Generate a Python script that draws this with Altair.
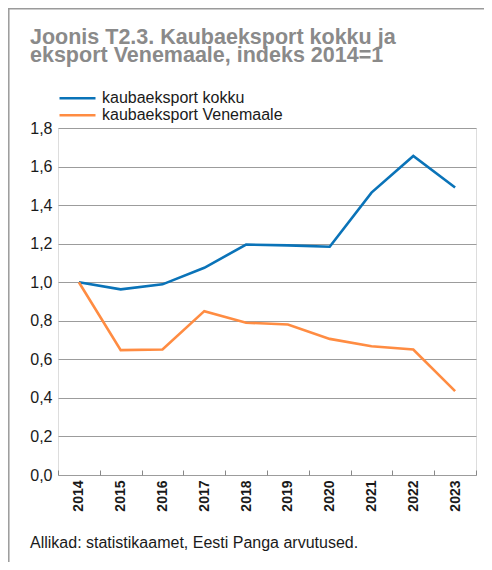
import altair as alt
import pandas as pd

years = ["2014", "2015", "2016", "2017", "2018", "2019", "2020", "2021", "2022", "2023"]
total_export = [1.00, 0.963, 0.989, 1.075, 1.195, 1.191, 1.184, 1.465, 1.655, 1.491]
russia_export = [1.00, 0.648, 0.651, 0.850, 0.790, 0.781, 0.706, 0.668, 0.651, 0.435]
series_names = ["kaubaeksport kokku", "kaubaeksport Venemaale"]
series_colors = ["#0A73B8", "#FF8C42"]
y_ticks = [0.0, 0.2, 0.4, 0.6, 0.8, 1.0, 1.2, 1.4, 1.6, 1.8]
title_lines = ["Joonis T2.3. Kaubaeksport kokku ja", "eksport Venemaale, indeks 2014=1"]
source_text = "Allikad: statistikaamet, Eesti Panga arvutused."

rows = []
for name, vals in zip(series_names, [total_export, russia_export]):
    for yr, v in zip(years, vals):
        rows.append({"aasta": yr, "väärtus": v, "seeria": name})
df = pd.DataFrame(rows)

FONT = "Liberation Sans"
W, H = 418, 347

lines = alt.Chart(df).mark_line(strokeWidth=2.6, strokeJoin="miter").encode(
    x=alt.X(
        "aasta:O",
        sort=years,
        scale=alt.Scale(type="band", paddingInner=0, paddingOuter=0),
        axis=alt.Axis(
            title=None,
            labelAngle=270,
            labelAlign="right",
            labelBaseline="middle",
            labelFont=FONT,
            labelFontSize=14,
            labelFontWeight="bold",
            labelColor="#1a1a1a",
            labelPadding=5,
            tickBand="extent",
            tickSize=5,
            tickColor="#888888",
            tickWidth=1,
            domain=False,
            offset=-5,
            grid=False,
        ),
    ),
    y=alt.Y(
        "väärtus:Q",
        scale=alt.Scale(domain=[0, 1.8], nice=False, zero=True),
        axis=alt.Axis(
            title=None,
            values=y_ticks,
            labelExpr="replace(format(datum.value, '.1f'), '.', ',')",
            labelFont=FONT,
            labelFontSize=16,
            labelColor="#1a1a1a",
            labelPadding=6,
            ticks=False,
            domain=False,
            grid=True,
            gridColor="#9c9c9c",
            gridWidth=1.2,
        ),
    ),
    color=alt.Color(
        "seeria:N",
        scale=alt.Scale(domain=series_names, range=series_colors),
        legend=alt.Legend(
            title=None,
            orient="none",
            legendX=0,
            legendY=-38,
            symbolType="stroke",
            symbolSize=1296,
            symbolStrokeWidth=2.6,
            labelFont=FONT,
            labelFontSize=16,
            labelColor="#1a1a1a",
            labelOffset=5,
            labelLimit=400,
            rowPadding=0,
            clipHeight=16.5,
            padding=0,
        ),
    ),
)

source = alt.Chart(pd.DataFrame({"t": [source_text]})).mark_text(
    align="left", baseline="alphabetic", font=FONT, fontSize=16, color="#1a1a1a"
).encode(text="t:N", x=alt.value(-28), y=alt.value(420))

frame_top = alt.Chart(pd.DataFrame({"k": [0]})).mark_rule(color="#9a9a9a", strokeWidth=1.5).encode(
    x=alt.value(-50), x2=alt.value(430), y=alt.value(-119.2)
)
frame_left = alt.Chart(pd.DataFrame({"k": [0]})).mark_rule(color="#9a9a9a", strokeWidth=1.5).encode(
    x=alt.value(-49.2), y=alt.value(-120), y2=alt.value(440)
)

chart = alt.layer(frame_top, frame_left, lines, source).properties(
    width=W,
    height=H,
    padding={"left": 50, "top": 120, "right": 8, "bottom": 87},
    autosize=alt.AutoSizeParams(type="none"),
    title=alt.TitleParams(
        text=title_lines,
        anchor="start",
        frame="group",
        dx=-28,
        dy=69,
        font=FONT,
        fontSize=21.5,
        fontWeight="bold",
        color="#8a8a8a",
        lineHeight=18,
        offset=10,
    ),
).configure_view(stroke=None).configure(background="white")

chart.save("out.html", embed_options={"renderer": "svg", "actions": False})
